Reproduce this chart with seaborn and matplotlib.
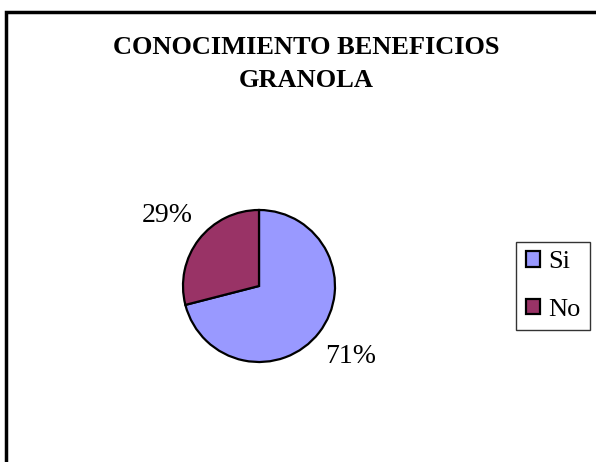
import matplotlib
matplotlib.use("Agg")
import matplotlib.pyplot as plt
import seaborn as sns
from matplotlib.patches import Rectangle

categories = ["Si", "No"]
values = [71, 29]
colors = ["#9999FF", "#993366"]
title = "CONOCIMIENTO BENEFICIOS\nGRANOLA"

sns.set_theme(style="white")
plt.rcParams["font.family"] = ["Liberation Serif", "DejaVu Serif"]
plt.rcParams["text.color"] = "black"

W, H = 596, 462
fig = plt.figure(figsize=(W / 100, H / 100), dpi=100)
fig.patch.set_facecolor("white")

# outer chart frame (runs off the right and bottom edge)
fig.add_artist(Rectangle((6 / W, -0.05), 1.2, (H - 12) / H + 0.05,
                         transform=fig.transFigure, fill=False,
                         edgecolor="black", linewidth=2.5))

fig.text(306 / W, 1 - 64 / H, title, ha="center", va="center",
         fontsize=19, fontweight="bold", linespacing=1.6, color="black")

# pie axes: center (259, 286), radius 76 px
cx, cy, r = 259, 286, 76
ax = fig.add_axes([(cx - r) / W, (H - cy - r) / H, 2 * r / W, 2 * r / H])
wedges, texts, autotexts = ax.pie(
    values, colors=colors, startangle=90, counterclock=False,
    autopct="%d%%", pctdistance=1.52,
    wedgeprops=dict(edgecolor="black", linewidth=1.6),
    textprops=dict(fontsize=20, color="black"))
ax.set_xlim(-1, 1)
ax.set_ylim(-1, 1)
ax.set_aspect("equal")
for w in wedges:
    w.set_clip_on(False)

leg = fig.legend(wedges, categories, loc="center",
                 bbox_to_anchor=(553 / W, 1 - 286 / H),
                 fontsize=19, frameon=True, fancybox=False,
                 edgecolor="black", handlelength=0.55, handleheight=0.55,
                 handletextpad=0.3, labelspacing=0.95, borderpad=0.35,
                 borderaxespad=0)
leg.get_frame().set_linewidth(1.0)
for t in leg.get_texts():
    t.set_color("black")

fig.savefig("out.png", dpi=100)
